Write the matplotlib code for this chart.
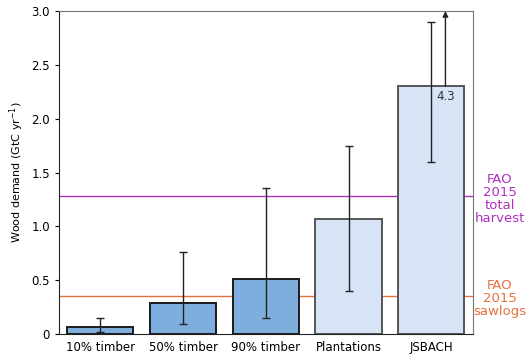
import matplotlib.pyplot as plt

categories = ['10% timber', '50% timber', '90% timber', 'Plantations', 'JSBACH']
demand = [0.065, 0.29, 0.51, 1.07, 2.30]
err_low = [0.02, 0.09, 0.15, 0.40, 1.60]
err_high = [0.15, 0.76, 1.36, 1.75, 2.90]
jsbach_max = 4.3
fao_total = 1.28
fao_sawlogs = 0.35

fill_colors = ['#7eaedd'] * 3 + ['#d6e4f6'] * 2
edge_colors = ['#1a1a1a'] * 3 + ['#555555'] * 2

fig = plt.figure(figsize=(5.3, 3.58), dpi=100)
ax = fig.add_axes([0.111, 0.067, 0.781, 0.902])

x = list(range(len(categories)))
ax.bar(x, demand, width=0.8, color=fill_colors, edgecolor=edge_colors, linewidth=1.4, zorder=2)

yerr = [[d - lo for d, lo in zip(demand, err_low)], [hi - d for d, hi in zip(demand, err_high)]]
ax.errorbar(x, demand, yerr=yerr, fmt='none', ecolor='#222222', elinewidth=1, capsize=3, capthick=1, zorder=3)

# JSBACH upper value off the chart
ax.annotate('', xy=(4.17, 3.0), xytext=(4.17, demand[4]),
            arrowprops=dict(arrowstyle='-|>', color='#222222', lw=1, mutation_scale=8,
                            shrinkA=0, shrinkB=0), zorder=4)
ax.text(4.17, demand[4] - 0.035, f'{jsbach_max}', ha='center', va='top', fontsize=8.5, color='#333333')

ax.axhline(fao_total, color='#b030c0', lw=1, zorder=1)
ax.axhline(fao_sawlogs, color='#e8703a', lw=1, zorder=1)
ax.text(1.065, fao_total - 0.03, 'FAO\n2015\ntotal\nharvest', transform=ax.get_yaxis_transform(),
        ha='center', va='center', color='#b030c0', fontsize=9.5, linespacing=1.0)
ax.text(1.065, fao_sawlogs - 0.02, 'FAO\n2015\nsawlogs', transform=ax.get_yaxis_transform(),
        ha='center', va='center', color='#e8703a', fontsize=9.5, linespacing=1.0)

ax.set_xlim(-0.5, 4.5)
ax.set_ylim(0, 3.0)
ax.set_xticks(x)
ax.set_xticklabels(categories, fontsize=8.5)
ax.tick_params(axis='x', length=0, pad=5)
ax.set_yticks([0, 0.5, 1.0, 1.5, 2.0, 2.5, 3.0])
ax.set_yticklabels(['0', '0.5', '1.0', '1.5', '2.0', '2.5', '3.0'], fontsize=8.5)
ax.tick_params(axis='y', length=3, direction='out')
ax.set_ylabel('Wood demand (GtC yr$^{-1}$)', fontsize=8)

ax.spines['left'].set_color('#222222')
ax.spines['bottom'].set_color('#222222')
ax.spines['top'].set_color('#777777')
ax.spines['right'].set_color('#777777')

fig.savefig('out.png', dpi=100)
